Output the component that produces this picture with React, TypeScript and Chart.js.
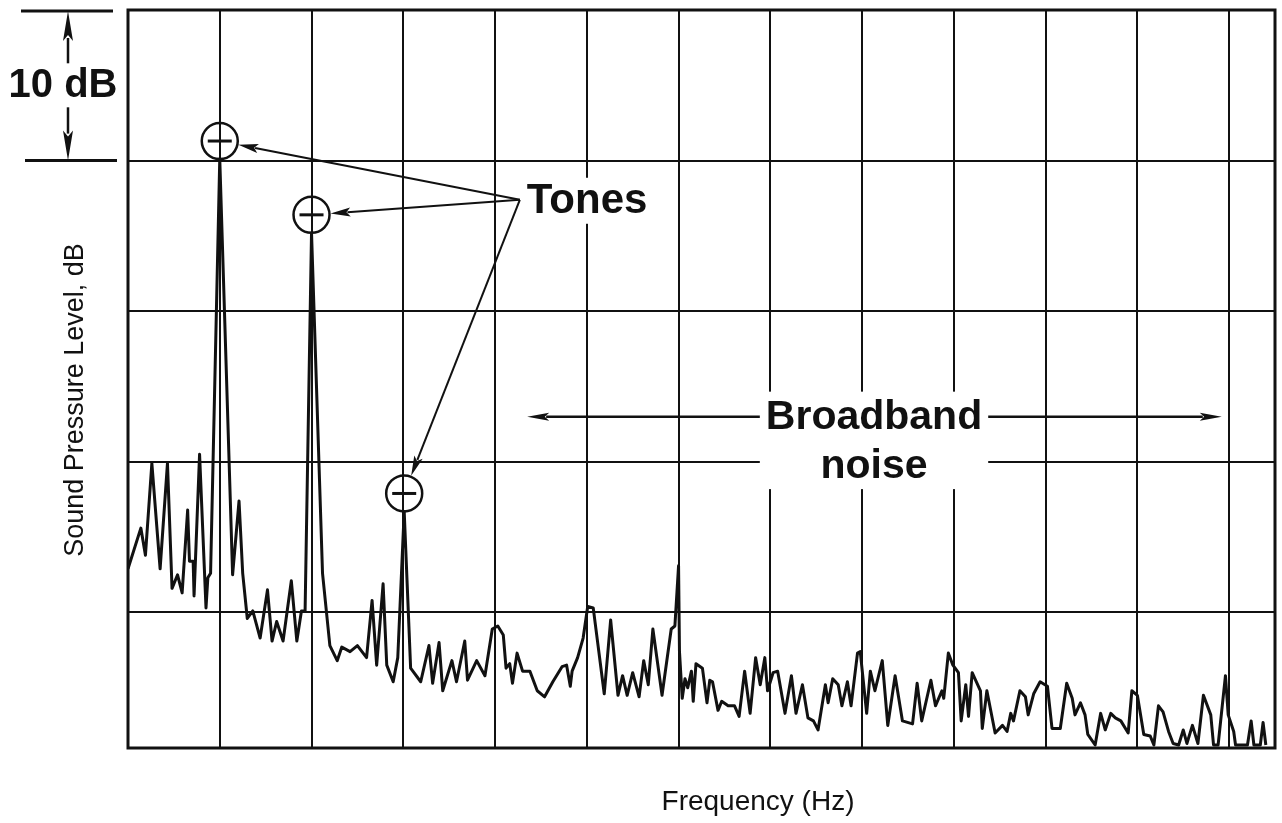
import React, { useEffect, useRef } from "react";
import { Chart, registerables } from "chart.js";

Chart.register(...registerables);

// ---- Spectrum trace (frequency in Hz, level in dB) ----
const freqHz = [
  0, 14, 19, 26, 35, 43, 48, 54, 59, 65, 67, 71, 72, 78, 85, 87, 90, 100, 114, 121,
  125, 130, 136, 144, 152, 157, 162, 169, 178, 184, 189, 193, 200, 212, 220, 228, 233, 242, 250, 260,
  266, 271, 278, 282, 289, 294, 301, 308, 319, 328, 332, 339, 343, 353, 358, 367, 370, 380, 389, 397,
  403, 409, 412, 416, 419, 424, 430, 438, 446, 454, 463, 473, 478, 482, 484, 490, 496, 501, 507, 519,
  526, 534, 539, 544, 550, 557, 562, 567, 572, 582, 592, 596, 600, 601, 604, 607, 610, 614, 616, 619,
  626, 631, 634, 637, 643, 647, 654, 661, 666, 672, 678, 684, 689, 694, 697, 703, 708, 716, 723, 728,
  735, 741, 747, 752, 760, 763, 768, 774, 778, 784, 788, 795, 798, 805, 809, 814, 822, 828, 836, 844,
  855, 860, 865, 875, 880, 887, 889, 894, 899, 905, 908, 913, 916, 920, 929, 931, 936, 945, 953, 958,
  962, 965, 972, 978, 981, 987, 994, 1002, 1007, 1016, 1023, 1029, 1032, 1038, 1043, 1046, 1054, 1060, 1065, 1071,
  1076, 1082, 1090, 1094, 1100, 1107, 1114, 1118, 1123, 1128, 1134, 1139, 1145, 1150, 1154, 1160, 1166, 1172, 1180, 1183,
  1188, 1196, 1199, 1205, 1207, 1220, 1224, 1227, 1234, 1237, 1240,
];
const levelDb = [
  62.9, 65.6, 63.8, 69.9, 62.9, 69.9, 61.6, 62.5, 61.3, 66.8, 63.4, 63.4, 61.1, 70.5, 60.3, 62.3, 62.6, 90.1, 62.5, 67.4,
  62.6, 59.6, 60.1, 58.3, 61.5, 58.1, 59.4, 58.1, 62.1, 58.1, 60.1, 60.1, 85.2, 62.6, 57.8, 56.8, 57.7, 57.4, 57.8, 57.0,
  60.8, 56.5, 61.9, 56.5, 55.4, 57.0, 66.7, 56.3, 55.4, 57.8, 55.3, 58.0, 54.8, 56.8, 55.4, 58.1, 55.5, 56.8, 55.8, 58.9,
  59.1, 58.5, 56.3, 56.6, 55.3, 57.3, 56.1, 56.1, 54.8, 54.4, 55.4, 56.4, 56.5, 55.1, 56.1, 57.0, 58.3, 60.4, 60.3, 54.6,
  59.5, 54.5, 55.8, 54.5, 56.0, 54.4, 56.8, 55.2, 58.9, 54.5, 58.9, 59.1, 63.1, 57.4, 54.3, 55.6, 55.0, 56.1, 54.1, 56.6,
  56.3, 54.0, 55.5, 55.4, 53.5, 54.1, 53.8, 53.8, 53.1, 56.1, 53.3, 57.0, 55.2, 57.0, 54.8, 56.0, 56.1, 53.3, 55.8, 53.3,
  55.2, 53.0, 52.8, 52.2, 55.2, 54.0, 55.6, 55.2, 53.8, 55.4, 53.8, 57.3, 57.4, 53.3, 56.1, 54.8, 56.8, 52.5, 55.8, 52.8,
  52.6, 55.3, 52.8, 55.5, 53.8, 54.8, 54.3, 57.3, 56.5, 56.0, 52.8, 55.2, 53.1, 56.0, 54.8, 52.3, 54.8, 52.0, 52.5, 52.1,
  53.3, 52.8, 54.8, 54.4, 53.2, 54.6, 55.4, 55.1, 52.3, 52.3, 55.3, 54.3, 53.2, 54.0, 53.2, 51.9, 51.2, 53.3, 52.2, 53.3,
  53.0, 52.8, 52.0, 54.8, 54.5, 51.9, 51.8, 51.2, 53.8, 53.4, 52.1, 51.3, 51.2, 52.2, 51.3, 52.5, 51.3, 54.5, 53.2, 51.2,
  51.2, 55.8, 53.2, 52.1, 51.2, 51.2, 52.8, 51.2, 51.2, 52.7, 51.2,
];

// ---- Axes ----
const freqMinHz = 0;
const freqMaxHz = 1250;
const levelMinDb = 51;
const levelMaxDb = 100;
const gridFreqHz = [100, 200, 300, 400, 500, 600, 700, 800, 900, 1000, 1100, 1200];
const gridLevelDb = [60, 70, 80, 90];

// ---- Annotations (data units) ----
const toneFreqHz = [100, 200, 301];
const toneMarkDb = [91.3, 86.4, 67.9];
const tonesLabel = { hz: 427, db: 87.4, text: "Tones" };
const broadbandLabel = { hz: 813, db: 73.0, db2: 69.65, line1: "Broadband", line2: "noise" };
const broadbandArrowHz = [435, 1192];
const scaleBarDb = [100, 90];
const scaleBarText = "10 dB";
const xTitle = "Frequency (Hz)";
const yTitle = "Sound Pressure Level, dB";

const INK = "#111111";
const FONT = "'Liberation Sans', Arial, Helvetica, sans-serif";

function arrow(ctx: CanvasRenderingContext2D, x1: number, y1: number, x2: number, y2: number, len: number, half: number) {
  const dx = x2 - x1;
  const dy = y2 - y1;
  const d = Math.hypot(dx, dy) || 1;
  const ux = dx / d;
  const uy = dy / d;
  const bx = x2 - ux * len;
  const by = y2 - uy * len;
  ctx.beginPath();
  ctx.moveTo(x1, y1);
  ctx.lineTo(bx + ux * 3, by + uy * 3);
  ctx.stroke();
  ctx.beginPath();
  ctx.moveTo(x2, y2);
  ctx.lineTo(bx - uy * half, by + ux * half);
  ctx.lineTo(x2 - ux * len * 0.8, y2 - uy * len * 0.8);
  ctx.lineTo(bx + uy * half, by - ux * half);
  ctx.closePath();
  ctx.fill();
}

const annotationPlugin = {
  id: "spectrumAnnotations",
  afterDraw(chart: any) {
    const { ctx, chartArea: a } = chart;
    const xs = chart.scales.x;
    const ys = chart.scales.y;
    ctx.save();
    ctx.strokeStyle = INK;
    ctx.fillStyle = INK;
    ctx.lineCap = "butt";

    // frame
    ctx.lineWidth = 3;
    ctx.strokeRect(a.left, a.top, a.right - a.left, a.bottom - a.top);

    // 10 dB scale bar
    const yTop = ys.getPixelForValue(scaleBarDb[0]);
    const yBot = ys.getPixelForValue(scaleBarDb[1]);
    ctx.lineWidth = 3;
    ctx.beginPath();
    ctx.moveTo(21, yTop + 1);
    ctx.lineTo(113, yTop + 1);
    ctx.moveTo(25, yBot);
    ctx.lineTo(117, yBot);
    ctx.stroke();
    const midY = (yTop + yBot) / 2;
    ctx.lineWidth = 2.5;
    arrow(ctx, 68, midY - 22, 68, yTop + 1, 30, 5);
    arrow(ctx, 68, midY + 22, 68, yBot, 30, 5);
    ctx.font = `bold 40px ${FONT}`;
    ctx.textAlign = "center";
    ctx.textBaseline = "middle";
    ctx.fillText(scaleBarText, 63, midY + 1);

    // Tones label + arrows to circle markers
    const ox = xs.getPixelForValue(tonesLabel.hz);
    const oy = ys.getPixelForValue(tonesLabel.db);
    ctx.font = `bold 42px ${FONT}`;
    const tw = ctx.measureText(tonesLabel.text).width;
    ctx.fillStyle = "#ffffff";
    ctx.fillRect(ox, oy - 22, tw + 14, 46);
    ctx.fillStyle = INK;
    ctx.textAlign = "left";
    ctx.textBaseline = "middle";
    ctx.fillText(tonesLabel.text, ox + 7, oy + 2);

    const r = 18;
    toneFreqHz.forEach((hz, i) => {
      const cx = xs.getPixelForValue(hz);
      const cy = ys.getPixelForValue(toneMarkDb[i]);
      ctx.lineWidth = 2.5;
      ctx.beginPath();
      ctx.arc(cx, cy, r, 0, Math.PI * 2);
      ctx.stroke();
      ctx.lineWidth = 3;
      ctx.beginPath();
      ctx.moveTo(cx - 12, cy);
      ctx.lineTo(cx + 12, cy);
      ctx.stroke();
      const dx = ox - cx;
      const dy = oy - cy;
      const d = Math.hypot(dx, dy);
      ctx.lineWidth = 2;
      arrow(ctx, ox, oy, cx + (dx / d) * (r + 1), cy + (dy / d) * (r + 1), 20, 4.5);
    });

    // Broadband noise label
    const bx = xs.getPixelForValue(broadbandLabel.hz);
    const by1 = ys.getPixelForValue(broadbandLabel.db);
    const by2 = ys.getPixelForValue(broadbandLabel.db2);
    ctx.font = `bold 41px ${FONT}`;
    const bw = ctx.measureText(broadbandLabel.line1).width;
    ctx.fillStyle = "#ffffff";
    ctx.fillRect(bx - bw / 2 - 6, by1 - 25, bw + 12, by2 - by1 + 47);
    ctx.fillStyle = INK;
    ctx.textAlign = "center";
    ctx.textBaseline = "middle";
    ctx.fillText(broadbandLabel.line1, bx, by1 + 1);
    ctx.fillText(broadbandLabel.line2, bx, by2);
    ctx.lineWidth = 2.5;
    arrow(ctx, bx - bw / 2 - 6, by1, xs.getPixelForValue(broadbandArrowHz[0]), by1, 22, 4);
    arrow(ctx, bx + bw / 2 + 6, by1, xs.getPixelForValue(broadbandArrowHz[1]), by1, 22, 4);

    // axis titles
    ctx.font = `28px ${FONT}`;
    ctx.textAlign = "center";
    ctx.textBaseline = "middle";
    ctx.fillText(xTitle, 758, 802);
    ctx.font = `27px ${FONT}`;
    ctx.save();
    ctx.translate(76, 400);
    ctx.rotate(-Math.PI / 2);
    ctx.fillText(yTitle, 0, 0);
    ctx.restore();

    ctx.restore();
  },
};

export default function App() {
  const ref = useRef<HTMLCanvasElement>(null);
  useEffect(() => {
    if (!ref.current) return;
    const points = freqHz.map((f, i) => ({ x: f, y: levelDb[i] }));
    const chart = new Chart(ref.current, {
      type: "line",
      data: {
        datasets: [
          {
            data: points,
            borderColor: INK,
            borderWidth: 3,
            pointRadius: 0,
            tension: 0,
            borderJoinStyle: "round",
            fill: false,
          },
        ],
      },
      options: {
        responsive: false,
        animation: false,
        layout: { padding: { left: 128, top: 10, right: 7, bottom: 75 } },
        plugins: { legend: { display: false }, tooltip: { enabled: false } },
        scales: {
          x: {
            type: "linear",
            min: freqMinHz,
            max: freqMaxHz,
            afterBuildTicks: (scale: any) => {
              scale.ticks = gridFreqHz.map((v) => ({ value: v }));
            },
            grid: { color: INK, lineWidth: 2, drawTicks: false },
            border: { display: false },
            ticks: { display: false },
          },
          y: {
            type: "linear",
            min: levelMinDb,
            max: levelMaxDb,
            afterBuildTicks: (scale: any) => {
              scale.ticks = gridLevelDb.map((v) => ({ value: v }));
            },
            grid: { color: INK, lineWidth: 2, drawTicks: false },
            border: { display: false },
            ticks: { display: false },
          },
        },
      },
      plugins: [annotationPlugin],
    } as any);
    return () => chart.destroy();
  }, []);
  return (
    <div style={{ position: "fixed", left: 0, top: 0, width: 1282, height: 823, background: "#ffffff" }}>
      <canvas ref={ref} width={1282} height={823} style={{ display: "block", width: 1282, height: 823 }} />
    </div>
  );
}
